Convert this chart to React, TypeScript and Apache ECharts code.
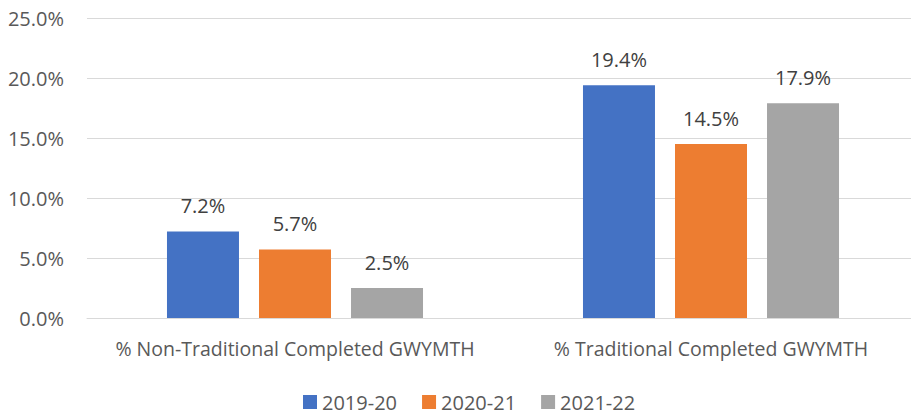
import React, { useEffect, useRef } from "react";
import * as echarts from "echarts";

const categories = ["% Non-Traditional Completed GWYMTH", "% Traditional Completed GWYMTH"];
const seriesNames = ["2019-20", "2020-21", "2021-22"];
const values2019 = [7.2, 19.4];
const values2020 = [5.7, 14.5];
const values2021 = [2.5, 17.9];
const colors = ["#4472C4", "#ED7D31", "#A5A5A5"];

const FONT = "Open Sans";

export default function App() {
  const ref = useRef<HTMLDivElement>(null);
  useEffect(() => {
    if (!ref.current) return;
    const chart = echarts.init(ref.current, undefined, { renderer: "svg" });
    const data = [values2019, values2020, values2021];
    chart.setOption({
      animation: false,
      backgroundColor: "#ffffff",
      textStyle: { fontFamily: FONT },
      grid: { left: 87, top: 18, width: 832, height: 300, containLabel: false },
      legend: {
        left: 298,
        top: 387,
        itemWidth: 14,
        itemHeight: 14,
        itemGap: 25,
        icon: "rect",
        textStyle: { fontFamily: FONT, fontSize: 20, color: "#595959" },
        data: seriesNames,
      },
      xAxis: {
        type: "category",
        data: categories,
        axisLine: { show: true, lineStyle: { color: "#d9d9d9", width: 1 } },
        axisTick: { show: false },
        axisLabel: { fontFamily: FONT, fontSize: 19.5, color: "#595959", margin: 20, interval: 0 },
      },
      yAxis: {
        type: "value",
        min: 0,
        max: 25,
        interval: 5,
        axisLine: { show: false },
        axisTick: { show: false },
        splitLine: { lineStyle: { color: "#d9d9d9", width: 1 } },
        axisLabel: {
          fontFamily: FONT,
          fontSize: 20,
          color: "#595959",
          margin: 23,
          formatter: (v: number) => v.toFixed(1) + "%",
        },
      },
      series: seriesNames.map((name, i) => ({
        name,
        type: "bar",
        data: data[i],
        barWidth: 72,
        barGap: "27.8%",
        itemStyle: { color: colors[i] },
        label: {
          show: true,
          position: "top",
          distance: 16,
          fontFamily: FONT,
          fontSize: 20,
          color: "#404040",
          formatter: (p: any) => Number(p.value).toFixed(1) + "%",
        },
      })),
    });
    return () => chart.dispose();
  }, []);
  return (
    <div style={{ position: "fixed", left: 0, top: 0, width: 911, height: 414, overflow: "hidden" }}>
      <div ref={ref} style={{ width: 919, height: 414 }} />
    </div>
  );
}
